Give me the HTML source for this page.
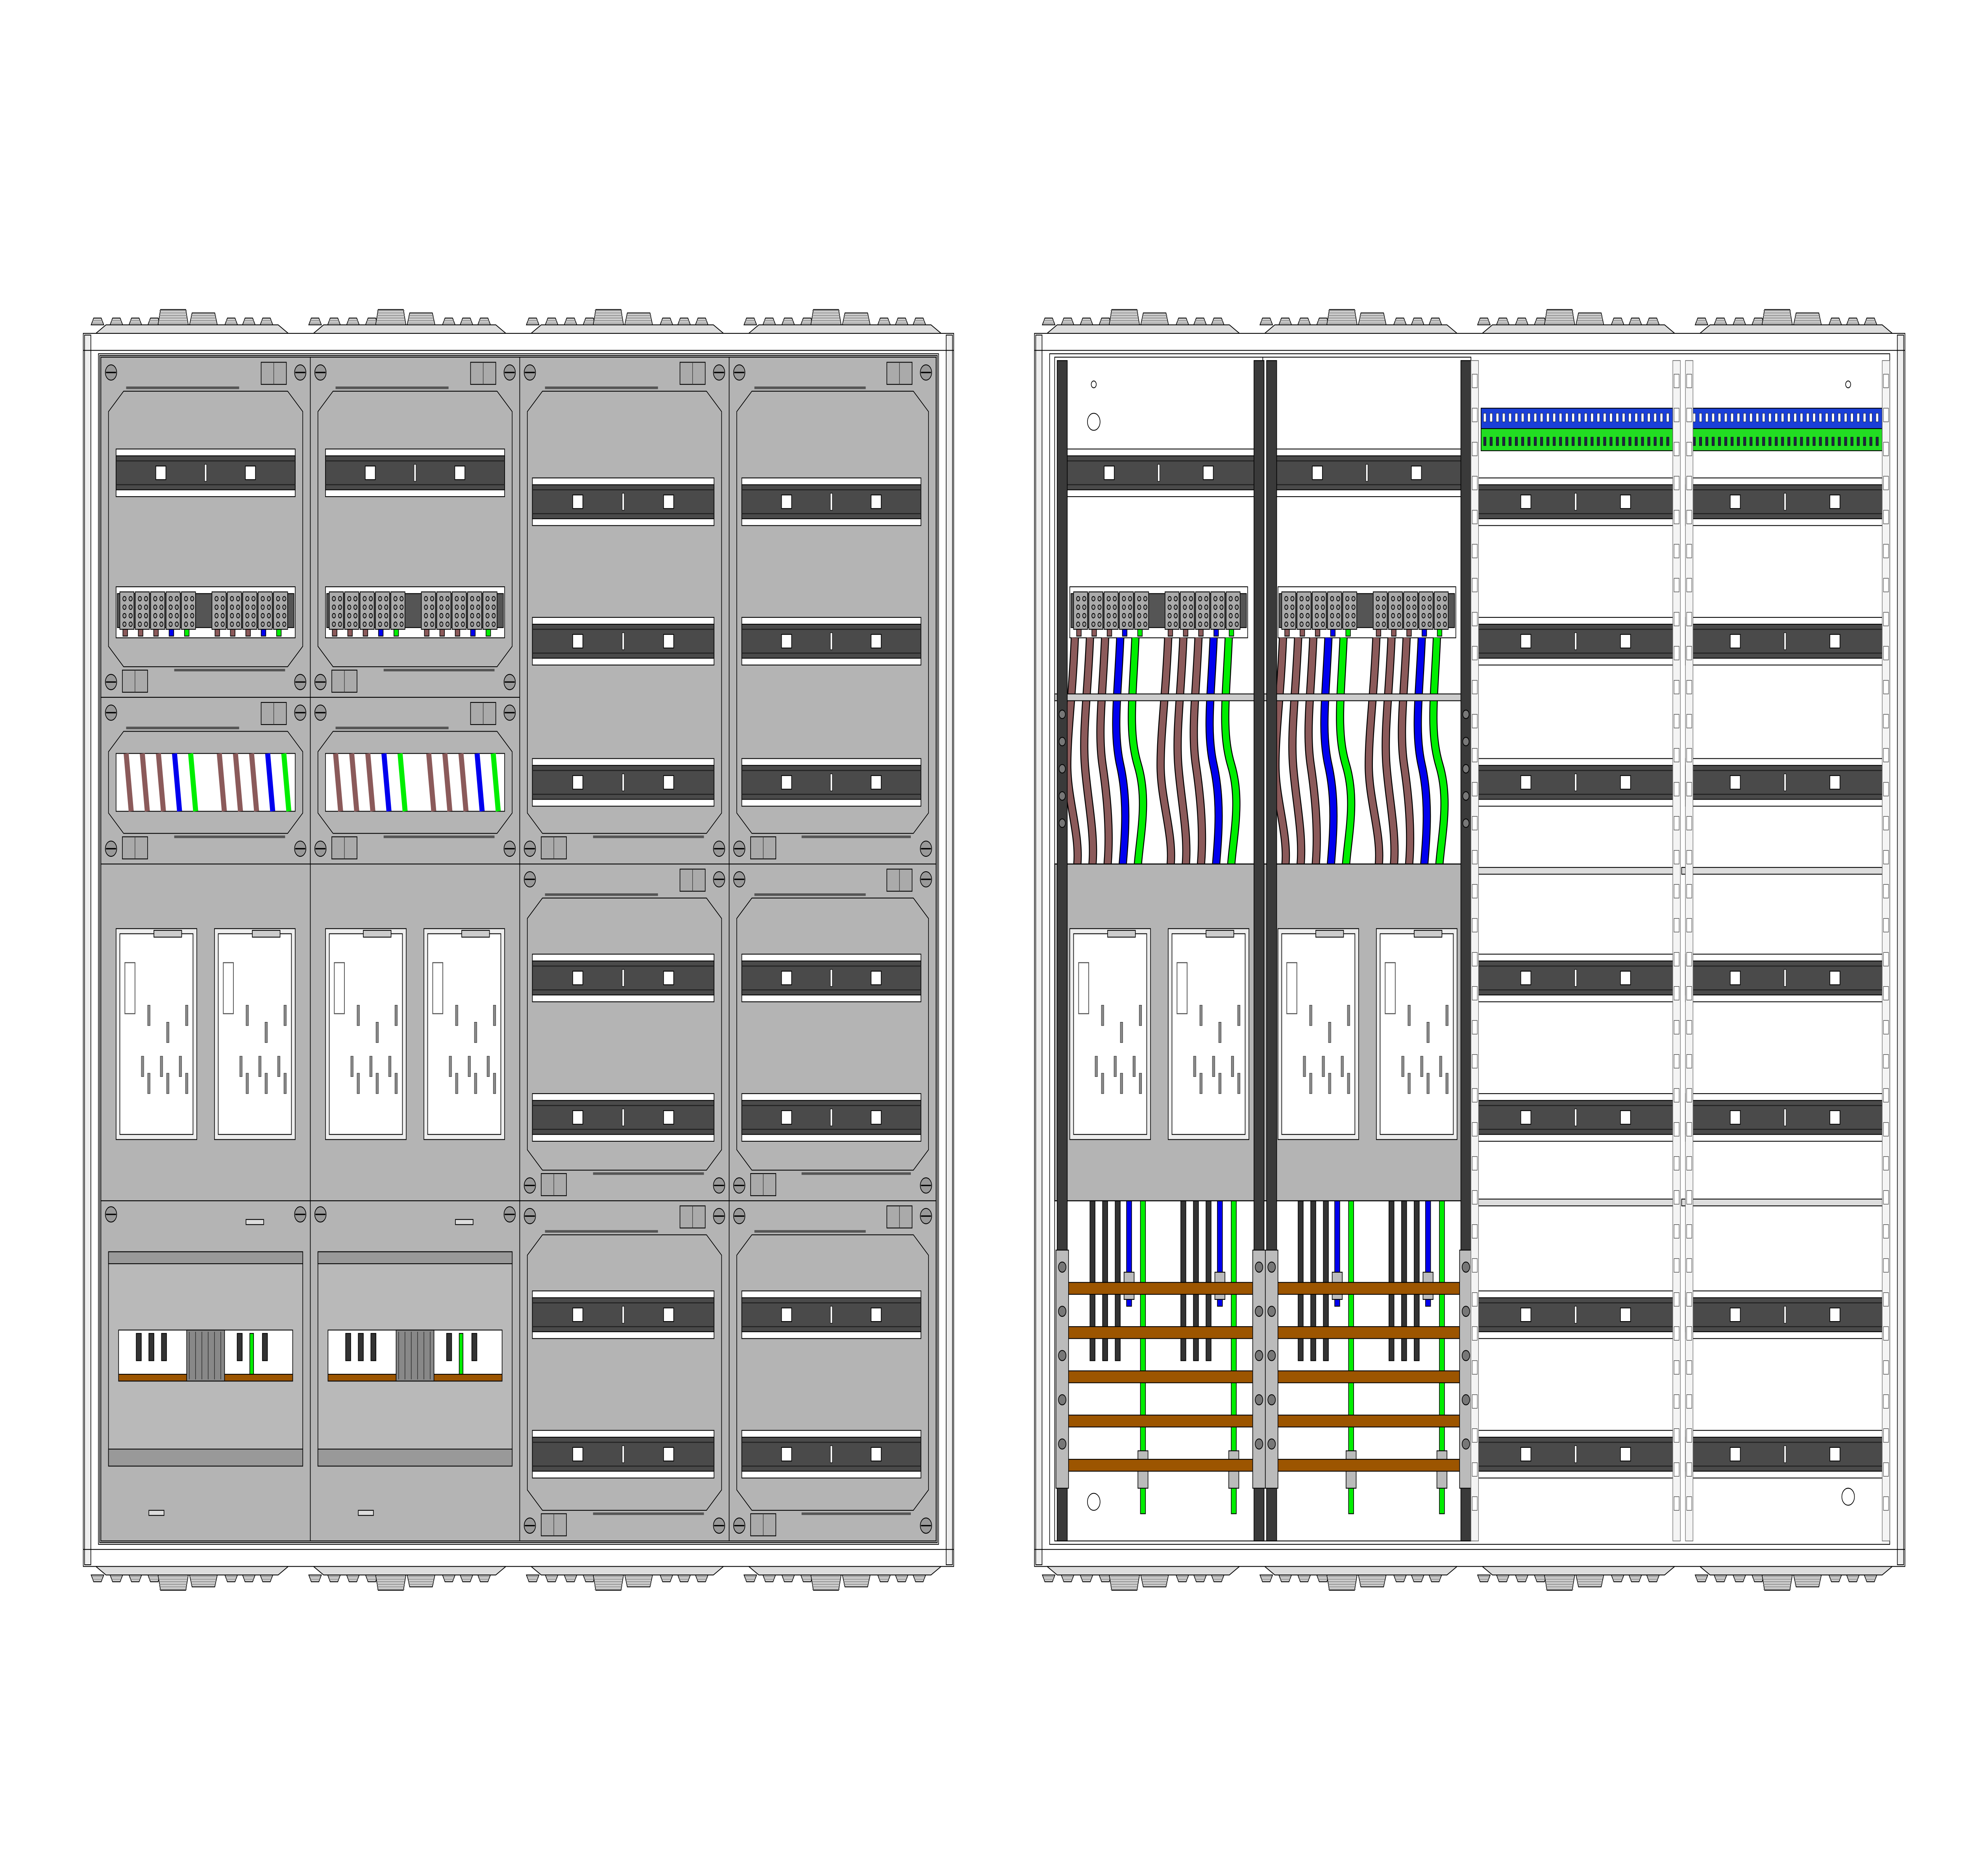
<!DOCTYPE html>
<html><head><meta charset="utf-8">
<style>html,body{margin:0;padding:0;background:#fff;width:100%;height:100%;overflow:hidden}#s{display:block;width:100vw;height:100vh;position:fixed;left:0;top:0}</style></head>
<body>
<svg id="s" xmlns="http://www.w3.org/2000/svg" viewBox="0 0 1560 1103" preserveAspectRatio="none"></svg>
<script>
const W=[];
const G='#b4b4b4';
function R(x,y,w,h,f,s,sw){W.push(`<rect x="${x}" y="${y}" width="${w}" height="${h}" fill="${f}" stroke="${s||'#000'}" stroke-width="${sw==null?0.5:sw}"/>`);}
function L(x1,y1,x2,y2,s,sw){W.push(`<line x1="${x1}" y1="${y1}" x2="${x2}" y2="${y2}" stroke="${s||'#000'}" stroke-width="${sw||0.5}"/>`);}
function P(d,f,s,sw){W.push(`<path d="${d}" fill="${f}" stroke="${s||'#000'}" stroke-width="${sw==null?0.5:sw}"/>`);}
function C(x,y,r,f){W.push(`<circle cx="${x}" cy="${y}" r="${r}" fill="${f}" stroke="#000" stroke-width="0.5"/>`);}
function screw(x,y){C(x,y,4.5,'#999');L(x-4,y,x+4,y,'#000',0.8);}
function rail(x1,x2,yc){
  R(x1,yc-14,x2-x1,28,'#fff');
  R(x1,yc-10,x2-x1,20,'#4a4a4a');
  L(x1,yc-7,x2,yc-7,'#222',0.6);L(x1,yc+7,x2,yc+7,'#222',0.6);
  const w=x2-x1;
  R(x1+w*0.25-4,yc-4,8,8,'#fff');R(x1+w*0.75-4,yc-4,8,8,'#fff');
  R(x1+w/2-0.8,yc-5,1.6,10,'#fff',null,0.3);
}
function module(x,y,w,h){
  R(x,y,w,h,G);
  const a=x+6,b=x+w-6,t=y+20,bt=y+h-18,c=12;
  P(`M${a+c},${t}H${b-c}L${b},${t+c}V${bt-c}L${b-c},${bt}H${a+c}L${a},${bt-c}V${t+c}Z`,G);
  L(a+c+2,t-2,x+w*0.66,t-2,'#555',1.5);
  L(x+w*0.35,bt+2,b-c-2,bt+2,'#555',1.5);
  screw(x+8,y+9);screw(x+w-8,y+9);screw(x+8,y+h-9);screw(x+w-8,y+h-9);
  R(x+w-39,y+3,20,13,'#aaa');L(x+w-29,y+3,x+w-29,y+16,'#333',0.4);
  R(x+17,y+h-16,20,13,'#aaa');L(x+27,y+h-16,x+27,y+h-3,'#333',0.4);
}
function terms(x1,x2,y){
  R(x1,y,x2-x1,30,'#fff');
  R(x1+1,y+4,x2-x1-2,20,'#555');
  const mid=(x1+x2)/2;
  for(let k=0;k<2;k++){
    const s=k?mid+5:x1+3, n=5, bw=((x2-x1)/2-10)/n;
    for(let i=0;i<n;i++){
      const bx=s+i*bw;R(bx,y+3,bw-1,22,'#aaa');
      for(let j=0;j<4;j++){C(bx+bw*0.3,y+7+j*5,1.3,'#999');C(bx+bw*0.7,y+7+j*5,1.3,'#999');}
      const col=i<3?'#8b5a5a':(i==3?'#0000ee':'#00ee00');
      R(bx+bw*0.2,y+25,bw*0.3,4,col);
    }
  }
}
const cableCols=['#8b5a5a','#8b5a5a','#8b5a5a','#0000ee','#00ee00'];
function cableWindow(x1,x2,y1,y2){
  R(x1,y1,x2-x1,y2-y1,'#fff');
  const w=x2-x1;
  for(let k=0;k<2;k++)for(let i=0;i<5;i++){
    const xx=x1+8+k*w*0.52+i*w*0.09;
    P(`M${xx},${y1}L${xx+4},${y2}`,'none',cableCols[i],4);
  }
}
function meter(x,y){
  R(x,y,64,124,'#eee');R(x+3,y+3,58,118,'#fff');
  R(x+30,y+1,22,4,'#ccc');
  R(x+7,y+20,8,30,'none','#555',0.6);
  for(const [a,b] of [[25,45],[40,55],[55,45],[20,75],[35,75],[50,75],[25,85],[40,85],[55,85]])R(x+a,y+b,2,12,'#888',null,0.2);
}
function meterPair(x){meter(x+12,546);meter(x+90,546);}
function glands(x1,x2,y,up){
  const s=up?-1:1;
  P(`M${x1},${y}L${x1+8},${y+s*5}H${x2-8}L${x2},${y}Z`,'#ddd');
  const cx=(x1+x2)/2;
  const parts=[[-70,10,4],[-55,10,4],[-40,10,4],[-25,10,4],[-10,24,9],[14,22,7],[36,10,4],[50,10,4],[64,10,4]];
  for(const [o,w,h] of parts){const a=cx+o-w/2-5;P(`M${a},${y+s*5}L${a+2},${y+s*(5+h)}H${a+w-2}L${a+w},${y+s*5}Z`,'#ccc');
    for(let j=1;j<h;j+=1.5)L(a+1,y+s*(5+j),a+w-1,y+s*(5+j),'#777',0.3);}
}
function frame(x1,x2){
  for(let k=0;k<4;k++){const cw=(x2-x1)/4;glands(x1+k*cw+10,x1+(k+1)*cw-10,196,true);glands(x1+k*cw+10,x1+(k+1)*cw-10,921,false);}
  R(x1,196,x2-x1,725,'#fff');
  R(x1+1,197,5,723,'#eee');R(x2-6,197,5,723,'#eee');
  L(x1,206,x2,206);L(x1,911,x2,911);
  R(x1+12,208,x2-x1-24,700,'#fff');
}
frame(66,756);
R(79,209,664,698,G);
const LC=[80,246,412,578,742];
for(let k=0;k<2;k++){
  const x=LC[k],w=LC[k+1]-x;
  module(x,210,w,200);rail(x+12,x+w-12,278);terms(x+12,x+w-12,345);
  module(x,410,w,98);cableWindow(x+12,x+w-12,443,477);
  R(x,508,w,198,G);meterPair(x);
  R(x,706,w,200,G);screw(x+8,714);screw(x+w-8,714);R(x+115,717,14,3,'#ddd');
  R(x+6,736,w-12,126,'#b9b9b9');R(x+6,736,w-12,7,'#999');
  R(x+14,782,w-28,30,'#fff');R(x+14,808,w-28,4,'#9c5500');
  for(const o of [28,38,48])R(x+o,784,4,16,'#333');
  R(x+68,782,30,30,'#888');for(let j=0;j<6;j++)L(x+70+j*5,783,x+70+j*5,811,'#333',0.5);
  R(x+108,784,4,16,'#333');R(x+118,784,3,24,'#00ee00');R(x+128,784,4,16,'#333');
  R(x+6,852,w-12,10,'#999');R(x+38,888,12,3,'#ddd');
}
for(let k=2;k<4;k++){
  const x=LC[k],w=LC[k+1]-x;
  module(x,210,w,298);rail(x+10,x+w-12,295);rail(x+10,x+w-12,377);rail(x+10,x+w-12,460);
  module(x,508,w,198);rail(x+10,x+w-12,575);rail(x+10,x+w-12,657);
  module(x,706,w,200);rail(x+10,x+w-12,773);rail(x+10,x+w-12,855);
}
frame(820,1510);
const RC=[836,1001,1166,1332,1498];
for(let k=0;k<2;k++){
  const x=RC[k],w=RC[k+1]-x;
  R(x,210,w,298,'#fff');
  rail(x+4,x+w-4,278);terms(x+12,x+w-12,345);
  for(let i=0;i<2;i++)for(let j=0;j<5;j++){
    const xx=x+16+i*74+j*12, col=cableCols[j];
    const d=`M${xx},375C${xx-2},410 ${xx-6},430 ${xx+j*2-6},450S${xx+4},490 ${xx+2},508`;
    P(d,'none','#000',6.5);P(d,'none',col,5);
  }
  R(x,508,w,198,G);meterPair(x);
  R(x,706,w,200,'#fff');
  for(let i=0;i<2;i++){
    const b=x+28+i*72;
    for(let j=0;j<3;j++)R(b+j*10,706,4,94,'#333');
    R(b+29,706,4,62,'#0000ee');R(b+40,706,4,184,'#00ee00');
    R(b+27,748,8,16,'#bbb');R(b+38,853,8,22,'#bbb');
  }
  for(const yy of [754,780,806,832,858])R(x+8,yy,w-16,7,'#9c5500');
}
R(836,508,330,198,'none','#000',0.6);L(1001,508,1001,706);
R(836,408,330,4,'#ccc');
for(const sx of [838,994,1004,1158]){R(sx,212,8,694,'#3a3a3a');}
for(const sx of [838,994,1004,1158]){R(sx-1,735,10,140,'#bbb');for(let y=745;y<870;y+=26)C(sx+4,y,3,'#777');}
for(const sx of [838,1158]){for(let y=420;y<500;y+=16)C(sx+4,y,2.5,'#777');}
C(867,883,5,'#fff');C(867,248,5,'#fff');C(867,226,2,'#fff');C(1465,880,5,'#fff');C(1465,226,2,'#fff');
for(let k=2;k<4;k++){
  const x=RC[k],w=RC[k+1]-x;
  R(x+8,240,w-14,12,'#1a3fd8');R(x+8,252,w-14,13,'#22dd22');
  for(let j=0;j<30;j++){R(x+10+j*5,243,2,5,'#fff',null,0.2);R(x+10+j*5,257,2,5,'#224',null,0.2);}
  for(const y of [295,377,460,575,657,773,855])rail(x+4,x+w-4,y);
  R(x+1,510,w-2,4,'#ddd');R(x+1,705,w-2,4,'#ddd');
}
for(const sx of [1166,1326,1336,1492]){R(sx,212,6,694,'#f4f4f4','#666',0.4);for(let y=220;y<900;y+=20)R(sx+1,y,4,8,'#fff','#333',0.3);}
document.getElementById('s').innerHTML='<rect width="1560" height="1103" fill="#fff"/>'+W.join('');
</script>
</body></html>
